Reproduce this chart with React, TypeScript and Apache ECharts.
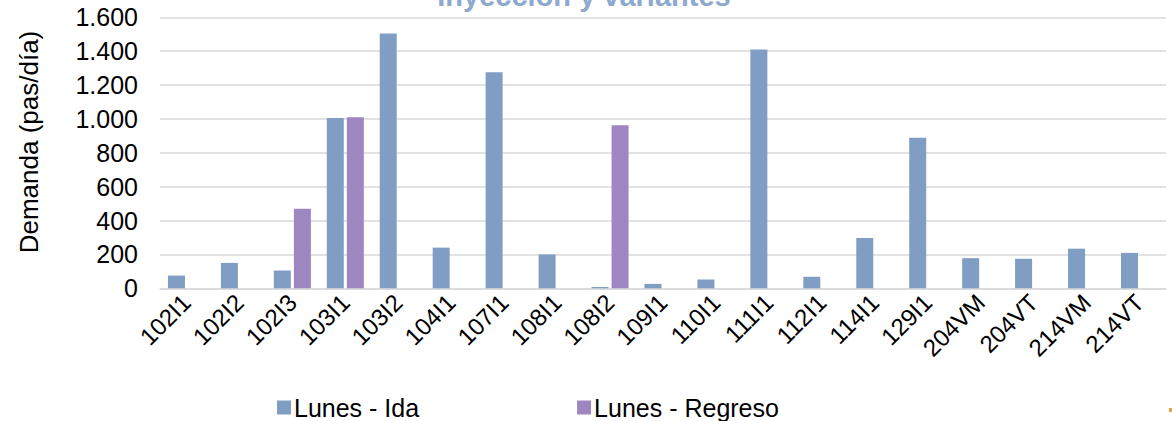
import React, { useEffect, useRef } from "react";
import * as echarts from "echarts";

const categories = [
  "102I1", "102I2", "102I3", "103I1", "103I2", "104I1", "107I1", "108I1", "108I2",
  "109I1", "110I1", "111I1", "112I1", "114I1", "129I1", "204VM", "204VT", "214VM", "214VT",
];
const idaValues = [75, 150, 105, 1005, 1505, 240, 1275, 200, 8, 26, 52, 1410, 68, 297, 889, 178, 174, 234, 209];
const regresoValues = [null, null, 470, 1010, null, null, null, null, 962, null, null, null, null, null, null, null, null, null, null];
const yTicks = { min: 0, max: 1600, interval: 200 };
const seriesNames = ["Lunes - Ida", "Lunes - Regreso"];
const titleText = "Inyección y variantes";
const yAxisTitle = "Demanda (pas/día)";

const FONT = "'Liberation Sans', Arial, sans-serif";

export default function App() {
  const ref = useRef<HTMLDivElement>(null);
  useEffect(() => {
    if (!ref.current) return;
    const chart = echarts.init(ref.current, null, { renderer: "svg" });
    chart.setOption({
      animation: false,
      backgroundColor: "#ffffff",
      textStyle: { fontFamily: FONT },
      graphic: [
        {
          type: "text",
          x: 584,
          y: 10,
          style: {
            text: titleText,
            fill: "#8EA9CE",
            font: `bold 29px ${FONT}`,
            textAlign: "center",
            textVerticalAlign: "bottom",
          },
        },
        {
          type: "text",
          x: 29,
          y: 142,
          rotation: Math.PI / 2,
          style: {
            text: yAxisTitle,
            fill: "#000",
            font: `26px ${FONT}`,
            textAlign: "center",
            textVerticalAlign: "middle",
          },
        },
        {
          type: "rect",
          shape: { x: 1169, y: 408, width: 3, height: 4 },
          style: { fill: "#E8A04A" },
        },
      ],
      legend: {
        left: 272,
        top: 390,
        padding: 5,
        itemWidth: 14,
        itemHeight: 14,
        itemGap: 158,
        icon: "rect",
        textStyle: { fontSize: 25, color: "#000", fontFamily: FONT, padding: [0, 0, 0, -2] },
        data: seriesNames,
      },
      grid: { left: 160, right: 6, top: 17.3, bottom: 132.7, containLabel: false },
      xAxis: {
        type: "category",
        data: categories,
        axisTick: { show: false },
        axisLine: { lineStyle: { color: "#D9D9D9", width: 1.5 } },
        axisLabel: { rotate: 45, interval: 0, fontSize: 24, color: "#000", margin: 10, fontFamily: FONT },
      },
      yAxis: {
        type: "value",
        min: yTicks.min,
        max: yTicks.max,
        interval: yTicks.interval,
        axisLine: { show: false },
        axisTick: { show: false },
        splitLine: { lineStyle: { color: "#D9D9D9", width: 1.5 } },
        axisLabel: {
          fontSize: 25,
          color: "#000",
          margin: 22,
          fontFamily: FONT,
          formatter: (v: number) => String(v).replace(/\B(?=(\d{3})+(?!\d))/g, "."),
        },
      },
      series: [
        {
          name: seriesNames[0],
          type: "bar",
          data: idaValues,
          barWidth: 17,
          barGap: "18%",
          itemStyle: { color: "#809EC3" },
        },
        {
          name: seriesNames[1],
          type: "bar",
          data: regresoValues,
          barWidth: 17,
          barGap: "18%",
          itemStyle: { color: "#9E86C0" },
        },
      ],
    });
    return () => chart.dispose();
  }, []);
  return <div ref={ref} style={{ width: 1172, height: 421, position: "absolute", left: 0, top: 0 }} />;
}
